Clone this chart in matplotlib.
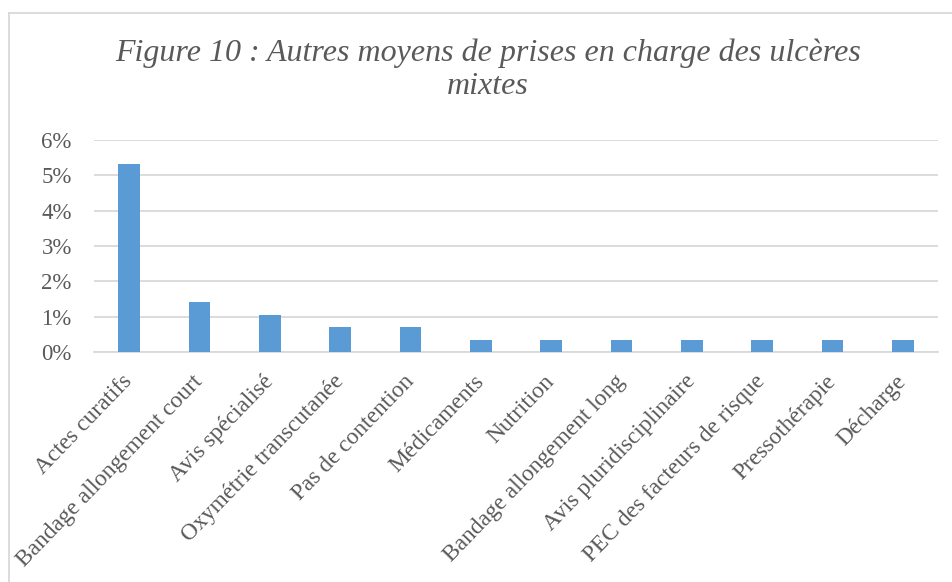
import matplotlib
matplotlib.use("Agg")
import matplotlib.pyplot as plt
from matplotlib.lines import Line2D
from matplotlib.ticker import FuncFormatter

categories = ["Actes curatifs", "Bandage allongement court", "Avis spécialisé",
              "Oxymétrie transcutanée", "Pas de contention", "Médicaments",
              "Nutrition", "Bandage allongement long", "Avis pluridisciplinaire",
              "PEC des facteurs de risque", "Pressothérapie", "Décharge"]
values = [5.32, 1.42, 1.06, 0.71, 0.71, 0.35, 0.35, 0.35, 0.35, 0.35, 0.35, 0.35]
yticks = [0, 1, 2, 3, 4, 5, 6]
title = "Figure 10 : Autres moyens de prises en charge des ulcères\nmixtes"

plt.rcParams['font.family'] = ['Liberation Serif', 'DejaVu Serif']
text_color = "#595959"
grid_color = "#D9D9D9"

fig = plt.figure(figsize=(9.52, 5.82), dpi=100)
ax = fig.add_axes([94/952, 1-352/582, (938-94)/952, (352-140)/582])

x = list(range(len(categories)))
ax.bar(x, values, width=0.31, color="#5B9BD5", zorder=3)
ax.set_xlim(-0.5, len(categories)-0.5)
ax.set_ylim(0, 6)
ax.set_yticks(yticks)
ax.yaxis.set_major_formatter(FuncFormatter(lambda v, p: f"{v:.0f}%"))
ax.grid(axis='y', color=grid_color, linewidth=1.3, zorder=0)
for s in ["top", "right", "left"]:
    ax.spines[s].set_visible(False)
ax.spines["bottom"].set_color(grid_color)
ax.spines["bottom"].set_linewidth(1.3)
ax.tick_params(axis='both', length=0, colors=text_color, labelsize=16.5)
ax.tick_params(axis='y', pad=16)
ax.set_xticks(x)
ax.set_xticklabels(categories, rotation=46, ha='right', va='center',
                   rotation_mode='anchor', fontsize=16.8, color=text_color)
ax.tick_params(axis='x', pad=19)

fig.text(488/952, 1-38/582, title, ha='center', va='top', fontsize=23,
         style='italic', color=text_color, linespacing=1.22)

# chart border
fig.add_artist(Line2D([9/952, 9/952], [0, 1-13/582], color="#D9D9D9", lw=1.3, transform=fig.transFigure))
fig.add_artist(Line2D([9/952, 1], [1-13/582, 1-13/582], color="#D9D9D9", lw=1.3, transform=fig.transFigure))

fig.savefig("out.png", dpi=100)
